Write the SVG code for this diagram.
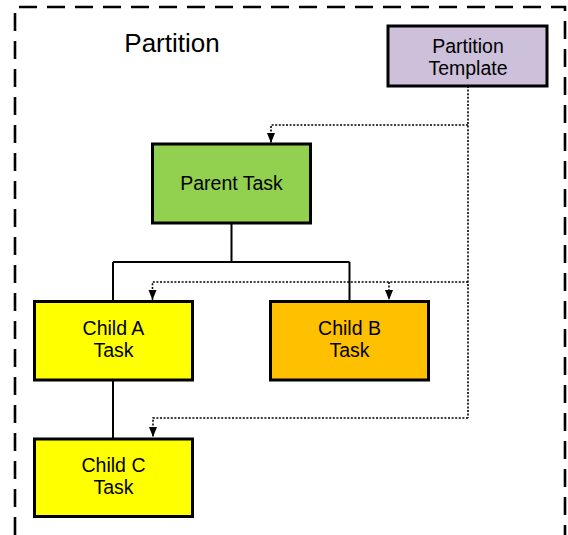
<svg xmlns="http://www.w3.org/2000/svg" width="568" height="535" viewBox="0 0 568 535">
  <style>
    .box { stroke: #000; stroke-width: 3; }
    .lbl { font-family: "Liberation Sans", Arial, sans-serif; font-size: 19.5px; fill: #000; text-anchor: middle; }
    .tree { fill: none; stroke: #000; stroke-width: 2; }
    .tpl { fill: none; stroke: #000; stroke-width: 1.6; stroke-dasharray: 2 1.6; }
  </style>
  <defs>
    <marker id="arrow" markerUnits="userSpaceOnUse" markerWidth="10" markerHeight="10" viewBox="0 0 10 10" refX="10" refY="5" orient="auto">
      <path d="M0,1 L10,5 L0,9 Z" fill="#000"/>
    </marker>
  </defs>

  <rect width="568" height="535" fill="#fff"/>

  <!-- partition boundary -->
  <g id="partition">
    <path d="M15,535 V7 H565 V535" fill="none" stroke="#000" stroke-width="2.6" stroke-dasharray="18 10"/>
    <text x="172" y="52" class="lbl" style="font-size:26px">Partition</text>
  </g>

  <!-- connectors -->
  <g id="connectors">
    <path class="tree" d="M231.5,223 V262 M113,262 H349.5 M113,262 V301 M349.5,262 V301 M113,380 V439"/>
    <path class="tpl" d="M468,86 V418"/>
    <path class="tpl" d="M468,125 H271 V143" marker-end="url(#arrow)"/>
    <path class="tpl" d="M468,282 H152.5 V300" marker-end="url(#arrow)"/>
    <path class="tpl" d="M389,282 V300" marker-end="url(#arrow)"/>
    <path class="tpl" d="M468,418 H153 V437" marker-end="url(#arrow)"/>
  </g>

  <g id="template">
    <rect class="box" x="388" y="26" width="159" height="60" fill="#CCC0DA"/>
    <text x="468" y="53" class="lbl">Partition</text>
    <text x="468" y="75" class="lbl">Template</text>
  </g>

  <g id="parent">
    <rect class="box" x="152.5" y="144" width="158" height="79" fill="#92D050"/>
    <text x="231.5" y="190" class="lbl">Parent Task</text>
  </g>

  <g id="childA">
    <rect class="box" x="34.5" y="301.5" width="158" height="78.5" fill="#FFFF00"/>
    <text x="113.5" y="335" class="lbl">Child A</text>
    <text x="113.5" y="357" class="lbl">Task</text>
  </g>

  <g id="childB">
    <rect class="box" x="270.5" y="301.5" width="158" height="78.5" fill="#FFC000"/>
    <text x="349.5" y="335" class="lbl">Child B</text>
    <text x="349.5" y="357" class="lbl">Task</text>
  </g>

  <g id="childC">
    <rect class="box" x="34.5" y="439" width="158" height="77.5" fill="#FFFF00"/>
    <text x="113.5" y="471.5" class="lbl">Child C</text>
    <text x="113.5" y="494" class="lbl">Task</text>
  </g>
</svg>
